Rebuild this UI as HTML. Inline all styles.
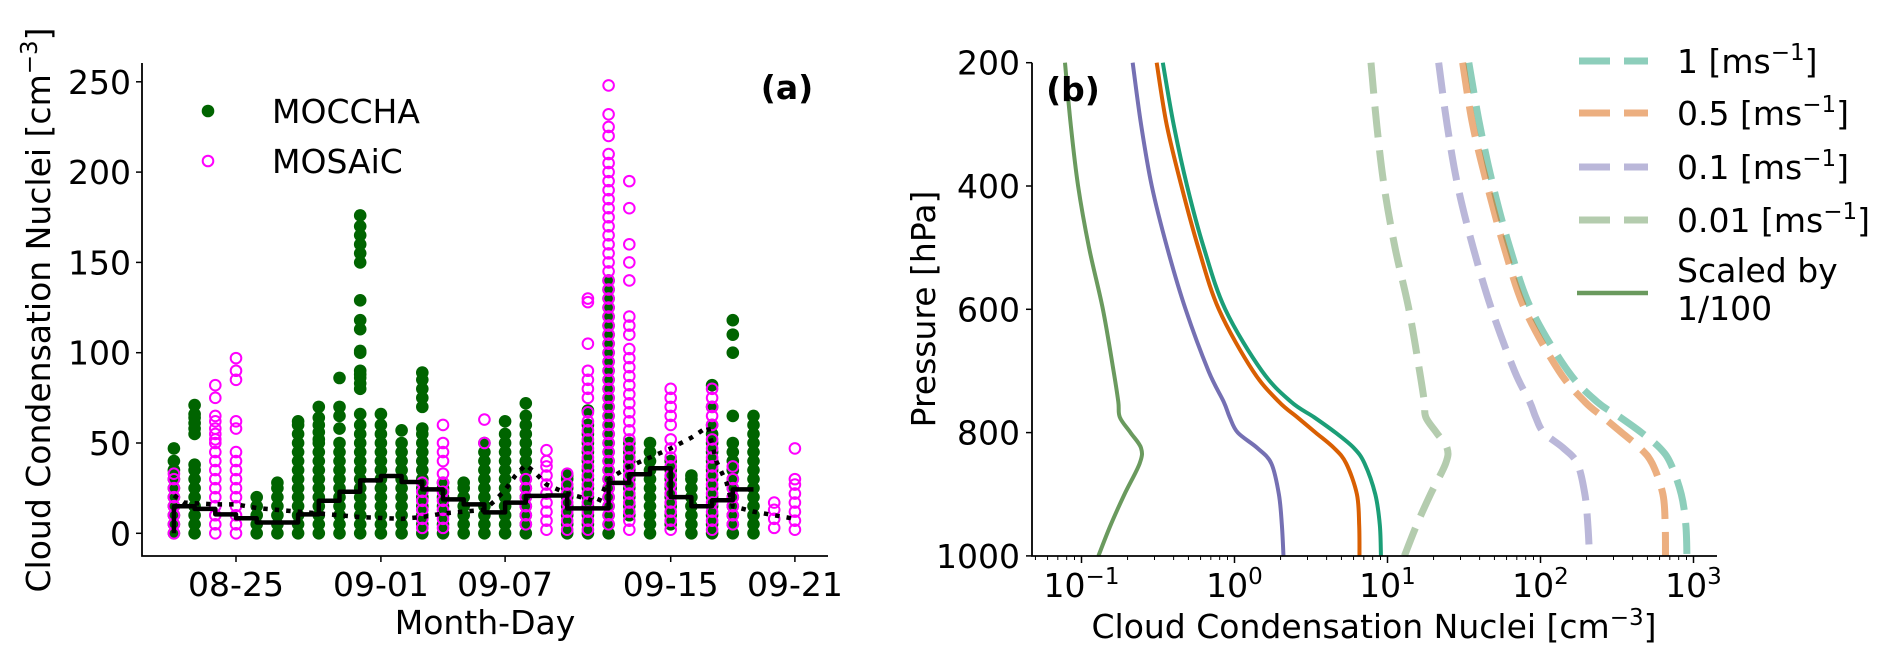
<!DOCTYPE html>
<html><head><meta charset="utf-8"><style>
html,body{margin:0;padding:0;background:#fff}
svg{display:block;font-family:"DejaVu Sans","Liberation Sans",sans-serif}
</style></head><body>
<svg id="fig" width="1892" height="662" viewBox="0 0 1892 662" xmlns="http://www.w3.org/2000/svg">
<g id="pa"></g>
<g id="pb"></g>
</svg>
<script>
// ---------- Panel (a) data ----------
const aTickLabels = ["08-25","09-01","09-07","09-15","09-21"];
const aTickDays = [0,7,13,21,27];
const aYTicks = [0,50,100,150,200,250];
const mocchaDays = [-3,-2,1,2,3,4,5,6,7,8,9,10,11,12,13,14,16,17,18,19,20,21,22,23,24,25];
const mocchaVals = [
 [0,5,10,15,20,25,30,35,40,47],
 [0,5,10,15,20,25,30,35,38,55,58,61,64,66,71],
 [0,5,10,15,20],
 [0,5,10,15,20,25,28],
 [0,5,10,15,20,25,30,35,40,45,50,55,60,62],
 [0,5,10,15,20,25,30,35,40,45,50,52,56,60,64,70],
 [0,5,10,15,20,25,30,35,40,45,50,58,65,70,86],
 [0,5,10,15,20,25,30,35,40,45,50,55,60,66,80,83,86,88,90,100,101,113,118,129,150,155,160,165,170,176],
 [0,5,10,15,20,25,30,35,40,45,50,55,60,66],
 [0,5,10,15,20,25,30,35,40,45,50,57],
 [0,5,10,15,20,25,30,35,40,45,50,55,58,70,75,80,85,89],
 [0,5,10,15,20,25,28],
 [0,5,10,15,20,25,28],
 [0,5,10,15,20,25,30,35,40,45,50],
 [0,5,10,15,20,25,30,35,40,45,50,55,62],
 [0,5,10,15,20,25,30,35,40,45,50,55,60,65,72],
 [0,5,10,15,20,25,30,32],
 [0,5,10,15,20,25,30,35,40,45,50,55,60,68],
 [0,5,10,15,20,25,30,35,40,45,50,55,60,65,70,75,80,85,90,95,100,105,110,115,120,125,130,135,140],
 [10,15,20,25,30,35,40,45,50],
 [0,5,10,15,20,25,30,35,40,45,50],
 [5,10,15,20,25,30,35,40],
 [0,5,10,15,20,25,30,32],
 [0,5,10,15,20,25,30,35,40,45,50,55,60,70,82],
 [0,5,10,15,20,25,30,35,40,45,50,65,100,110,118],
 [0,5,10,15,20,25,30,35,40,45,50,55,60,65]
];
const mosaicDays = [-3,-1,0,9,10,12,14,15,16,17,18,19,21,23,24,26,27];
const mosaicVals = [
 [0,5,10,15,20,25,30,33],
 [0,5,10,15,20,25,30,35,40,45,50,52,55,58,62,65,75,82],
 [0,5,10,15,20,25,30,35,40,45,58,62,85,90,97],
 [3,8,13,18,23,28],
 [3,8,13,18,23,28,33,40,45,50,60],
 [50,63],
 [5,10,15,20,25,30],
 [2,7,12,17,22,27,32,37,40,46],
 [2,7,12,17,22,27,33],
 [2,7,12,17,22,27,32,37,42,47,52,57,62,67,75,80,85,90,105,128,130],
 [5,10,15,20,25,30,35,40,45,50,55,60,65,70,75,80,85,90,95,100,105,110,115,120,125,130,135,140,145,150,155,160,165,170,175,180,185,190,195,200,205,210,220,225,232,248],
 [2,7,12,17,22,27,32,37,42,47,52,57,62,67,72,77,82,87,92,97,102,110,115,120,140,150,160,180,195],
 [2,7,12,17,22,27,32,37,42,47,52,60,65,70,75,80],
 [2,7,12,17,22,27,32,37,42,47,52,60,65,70,75,80],
 [5,10,15,20,25,30,37],
 [3,8,13,17],
 [2,7,12,17,22,27,30,47]
];
const medianDays = [-3,-2,-1,0,1,2,3,4,5,6,7,8,9,10,11,12,13,14,15,16,17,18,19,20,21,22,23,24];
const medianVals = [15,13.5,10.5,8.3,6,6,10.5,18,23,29.3,31.7,28.4,24.3,18.8,16,11.6,17,20.7,20.9,13.8,13.8,27.9,32.7,36,20,15,18.3,24.3];
const dotDays = [-3,-2.5,-1,0,1,2,4,6,8,9,10,11,12,12.5,13,13.5,14,14.5,15,16,17,17.5,18,19,20,21,22,22.8,23.2,23.7,24,25,26,27];
const dotVals = [21,17,16,16,14,13,11,9,8,9,11,12,13,18,24,32,38,33,27,22,19,17,30,37,42,47,53,59,40,28,15,12,10,8];

// ---------- Panel (b) data ----------
const pressures = [200,300,400,500,600,700,750,775,800,825,850,900,950,1000];
const ccn1 = [34,40,49,63,87,151,234,331,457,603,708,832,891,906];
const ccn05 = [31,36,45,58,79,132,195,257,339,447,537,631,653,656];
const ccn01 = [21.6,24.5,28.8,36.3,47.9,67.6,85,93,105,141,174,195,204,209];
const ccn001 = [7.8,8.5,9.5,11.2,13.8,16.2,17.4,17.8,20.9,24.5,24.0,19.1,15.5,12.9];
const scaleFactor = 100;
const bYTicks = [200,400,600,800,1000];
const bXTickExp = [-1,0,1,2,3];

const NS="http://www.w3.org/2000/svg";
function mk(parent,tag,attrs,text){const e=document.createElementNS(NS,tag);for(const k in attrs)e.setAttribute(k,attrs[k]);if(text!==undefined)e.textContent=text;parent.appendChild(e);return e;}
const FS=33;

// ---------- Panel (a) ----------
const pa=document.getElementById('pa');
const aL=142,aR=828,aT=63,aB=556;
const xa=d=>236+20.7*d;
const ya=v=>533.3-1.806*v;
let e;
// scatter MOCCHA
const gM=mk(pa,'g',{});


mocchaDays.forEach((d,i)=>{mocchaVals[i].forEach(v=>{
 e=mk(gM,'circle',{cx:xa(d),cy:ya(v),r:6.3,fill:'#006400'});
 
 
});});
const gS=mk(pa,'g',{});


mosaicDays.forEach((d,i)=>{mosaicVals[i].forEach(v=>{
 e=mk(gS,'circle',{cx:xa(d),cy:ya(v),r:5.3,fill:'none',stroke:'#ff00ff','stroke-width':2});
 
 
});});
// median step line
let sp=`M${xa(medianDays[0])},${ya(0)}`;
medianDays.forEach((d,i)=>{sp+=` L${xa(d)},${ya(medianVals[i])} L${xa(d+1)},${ya(medianVals[i])}`;});
e=mk(pa,'path',{d:sp,fill:'none',stroke:'#000','stroke-width':4.5,'stroke-linejoin':'round'});


// dotted line
let dp=dotDays.map((d,i)=>(i?'L':'M')+xa(d)+','+ya(dotVals[i])).join(' ');
e=mk(pa,'path',{d:dp,fill:'none',stroke:'#000','stroke-width':4.5,'stroke-dasharray':'4.5,7'});


// axes
e=mk(pa,'path',{d:`M${aL},${aT} V${aB} H${aR}`,fill:'none',stroke:'#000','stroke-width':1.8});


aYTicks.forEach(v=>{
 mk(pa,'line',{x1:aL-6,x2:aL,y1:ya(v),y2:ya(v),stroke:'#000','stroke-width':1.5});
 e=mk(pa,'text',{x:aL-11,y:ya(v)+12,'text-anchor':'end','font-size':FS},String(v));
 
 
});
aTickDays.forEach((d,i)=>{
 mk(pa,'line',{x1:xa(d),x2:xa(d),y1:aB,y2:aB+6,stroke:'#000','stroke-width':1.5});
 e=mk(pa,'text',{x:xa(d),y:aB+40,'text-anchor':'middle','font-size':FS},aTickLabels[i]);
 
 
});
</script>
<g></g>
<script>
const fig=document.getElementById('fig');
function addHTML(parent,s){const t=document.createElementNS(NS,'g');t.innerHTML=s;while(t.firstChild)parent.appendChild(t.firstChild);}
addHTML(pa,`
<text x="485" y="634" text-anchor="middle" font-size="33">Month-Day</text>
<text transform="translate(50,310) rotate(-90)" text-anchor="middle" font-size="33">Cloud Condensation Nuclei [cm<tspan dy="-13" font-size="23">−3</tspan><tspan dy="13">]</tspan></text>
<text x="787" y="99" text-anchor="middle" font-size="33" font-weight="bold">(a)</text>
<g>
<circle cx="208" cy="111" r="6.3" fill="#006400"/>
<text x="272" y="123" font-size="33">MOCCHA</text>
<circle cx="208" cy="161" r="5.3" fill="none" stroke="#ff00ff" stroke-width="2"/>
<text x="272" y="173" font-size="33">MOSAiC</text>
</g>`);

// ---------- Panel (b) ----------
const pb=document.getElementById('pb');
const bL=1032,bR=1717,bT=62.7,bB=556;
const xb=v=>1234.5+153*Math.log10(v);
const yb=p=>62.7+(p-200)*123.3/200;
const series=[
 {name:'1',vals:ccn1,col:'#1b9e77'},
 {name:'0.5',vals:ccn05,col:'#d95f02'},
 {name:'0.1',vals:ccn01,col:'#7570b3'},
 {name:'0.01',vals:ccn001,col:'#6a9a5e'}
];
function smooth(pts){let d=`M${pts[0][0]},${pts[0][1]}`;for(let i=0;i<pts.length-1;i++){const p0=pts[i-1]||pts[i],p1=pts[i],p2=pts[i+1],p3=pts[i+2]||p2;d+=` C${p1[0]+(p2[0]-p0[0])/6},${p1[1]+(p2[1]-p0[1])/6} ${p2[0]-(p3[0]-p1[0])/6},${p2[1]-(p3[1]-p1[1])/6} ${p2[0]},${p2[1]}`;}return d;}
series.forEach(s=>{
 const ptsD=pressures.map((p,i)=>[xb(s.vals[i]),yb(p)]);
 const ptsS=pressures.map((p,i)=>[xb(s.vals[i]/scaleFactor),yb(p)]);
 let el=mk(pb,'path',{d:smooth(ptsD),fill:'none',stroke:s.col,'stroke-opacity':0.5,'stroke-width':7,'stroke-dasharray':'31,13'});
 
 
 el=mk(pb,'path',{d:smooth(ptsS),fill:'none',stroke:s.col,'stroke-width':4});
 
 
});
e=mk(pb,'rect',{x:bL-20,y:0,width:20,height:662,fill:'#fff'});
e=mk(pb,'rect',{x:bL,y:bB+1,width:700,height:100,fill:'#fff'});
e=mk(pb,'path',{d:`M${bL},${bT} V${bB} H${bR}`,fill:'none',stroke:'#000','stroke-width':1.8});


bYTicks.forEach(p=>{
 mk(pb,'line',{x1:bL-6,x2:bL,y1:yb(p),y2:yb(p),stroke:'#000','stroke-width':1.5});
 e=mk(pb,'text',{x:bL-12,y:yb(p)+12,'text-anchor':'end','font-size':FS},String(p));
 
 
});
for(let k=-2;k<=3;k++){for(let m=2;m<=9;m++){const v=m*Math.pow(10,k);const x=xb(v);if(x>bL&&x<bR)mk(pb,'line',{x1:x,x2:x,y1:bB,y2:bB+4,stroke:'#000','stroke-width':1});}}
bXTickExp.forEach(k=>{
 const x=xb(Math.pow(10,k));
 mk(pb,'line',{x1:x,x2:x,y1:bB,y2:bB+7,stroke:'#000','stroke-width':1.5});
 const t=mk(pb,'text',{x:x,y:bB+41,'text-anchor':'middle','font-size':FS});
 
 
 mk(t,'tspan',{},'10');
 mk(t,'tspan',{dy:-13,'font-size':23},k<0?'−'+(-k):String(k));
});
addHTML(pb,`
<text x="1374" y="638" text-anchor="middle" font-size="33">Cloud Condensation Nuclei [cm<tspan dy="-13" font-size="23">−3</tspan><tspan dy="13">]</tspan></text>
<text transform="translate(935,309) rotate(-90)" text-anchor="middle" font-size="33">Pressure [hPa]</text>
<text x="1073" y="101" text-anchor="middle" font-size="33" font-weight="bold">(b)</text>
<g>
<line x1="1579" x2="1648" y1="61" y2="61" stroke="#1b9e77" stroke-opacity="0.5" stroke-width="7" stroke-dasharray="31,14"/>
<text x="1677" y="73" font-size="33">1 [ms<tspan dy="-13" font-size="23">−1</tspan><tspan dy="13">]</tspan></text>
<line x1="1579" x2="1648" y1="113" y2="113" stroke="#d95f02" stroke-opacity="0.5" stroke-width="7" stroke-dasharray="31,14"/>
<text x="1677" y="125" font-size="33">0.5 [ms<tspan dy="-13" font-size="23">−1</tspan><tspan dy="13">]</tspan></text>
<line x1="1579" x2="1648" y1="167" y2="167" stroke="#7570b3" stroke-opacity="0.5" stroke-width="7" stroke-dasharray="31,14"/>
<text x="1677" y="179" font-size="33">0.1 [ms<tspan dy="-13" font-size="23">−1</tspan><tspan dy="13">]</tspan></text>
<line x1="1579" x2="1648" y1="220" y2="220" stroke="#6a9a5e" stroke-opacity="0.5" stroke-width="7" stroke-dasharray="31,14"/>
<text x="1677" y="232" font-size="33">0.01 [ms<tspan dy="-13" font-size="23">−1</tspan><tspan dy="13">]</tspan></text>
<line x1="1577" x2="1648" y1="293" y2="293" stroke="#6a9a5e" stroke-width="4.5"/>
<text x="1677" y="282" font-size="33">Scaled by</text>
<text x="1677" y="320" font-size="33">1/100</text>
</g>`);
</script>
</body></html>
